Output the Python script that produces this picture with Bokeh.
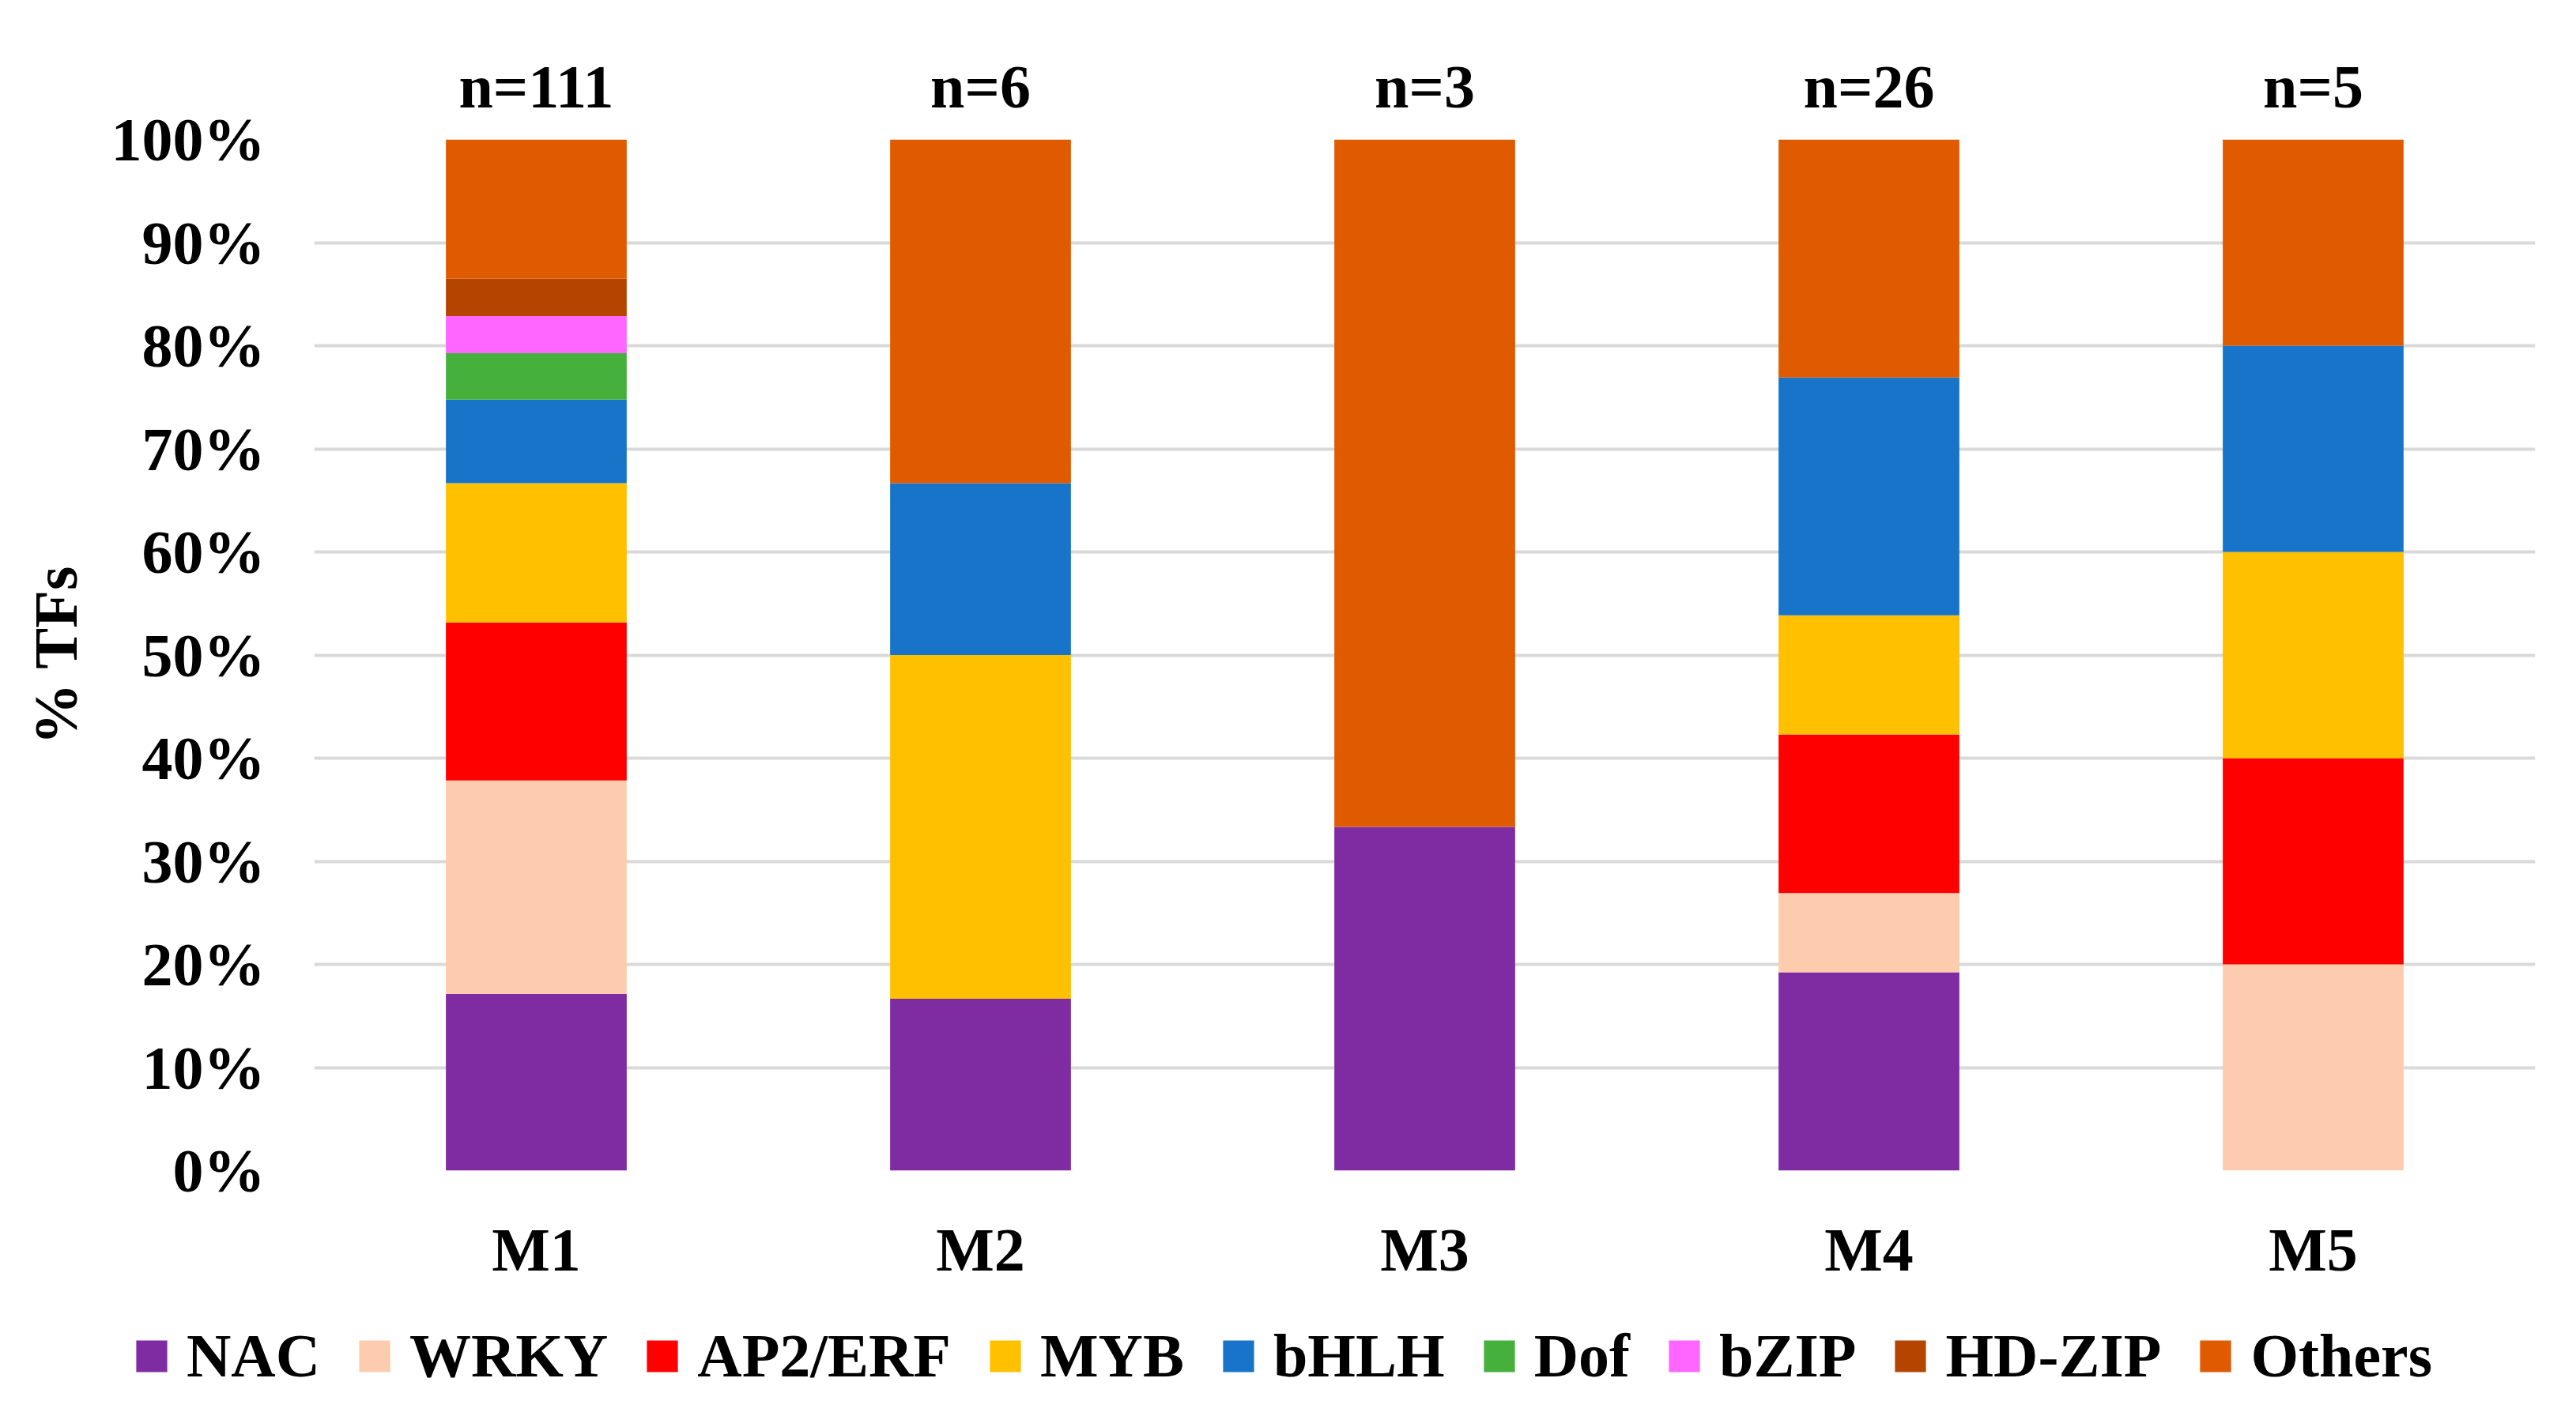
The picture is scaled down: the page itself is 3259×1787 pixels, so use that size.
from bokeh.plotting import figure
from bokeh.layouts import column
from bokeh.models import (FactorRange, Range1d, FixedTicker, CategoricalAxis,
                          Legend, LegendItem)
from bokeh.embed import file_html
from bokeh.resources import INLINE

# ---------------- data ----------------
categories = ["M1", "M2", "M3", "M4", "M5"]
n_labels = ["n=111", "n=6", "n=3", "n=26", "n=5"]

families = ["NAC", "WRKY", "AP2/ERF", "MYB", "bHLH", "Dof", "bZIP", "HD-ZIP", "Others"]
colors = ["#7F2BA2", "#FDCCAF", "#FF0000", "#FFC000", "#1874C9",
          "#46B03C", "#FF66FF", "#B54400", "#E05A00"]

# counts of TFs per family in each module (M1..M5)
nac = [19, 1, 1, 5, 0]
wrky = [23, 0, 0, 2, 1]
ap2_erf = [17, 0, 0, 4, 1]
myb = [15, 2, 0, 3, 1]
bhlh = [9, 1, 0, 6, 1]
dof = [5, 0, 0, 0, 0]
bzip = [4, 0, 0, 0, 0]
hd_zip = [4, 0, 0, 0, 0]
others = [15, 2, 2, 6, 1]
series = [nac, wrky, ap2_erf, myb, bhlh, dof, bzip, hd_zip, others]

y_ticks = [0, 10, 20, 30, 40, 50, 60, 70, 80, 90, 100]
y_tick_labels = ["0%", "10%", "20%", "30%", "40%", "50%", "60%", "70%", "80%", "90%", "100%"]

# ---------------- build ----------------
totals = [sum(col) for col in zip(*series)]
source = {"cat": categories}
for fam, vals in zip(families, series):
    source[fam] = [v / t * 100.0 for v, t in zip(vals, totals)]

FONT = "Liberation Serif"
FS = "78px"
W = 3243

p = figure(x_range=FactorRange(*categories), y_range=Range1d(0, 100),
           width=W, height=1631, output_backend="svg", toolbar_location=None,
           min_border_left=397, min_border_right=36, min_border_top=176,
           min_border_bottom=150)
p.frame_align = False
p.extra_x_ranges = {"n": FactorRange(*n_labels)}
p.outline_line_color = None
p.background_fill_color = "white"
p.border_fill_color = "white"

renderers = p.vbar_stack(families, x="cat", width=0.407, source=source,
                         fill_color=colors, line_color=None)

# grid
p.xgrid.grid_line_color = None
p.ygrid.grid_line_color = "#D9D9D9"
p.ygrid.grid_line_width = 4
p.ygrid.ticker = FixedTicker(ticks=y_ticks)

# y axis
ya = p.yaxis[0]
ya.ticker = FixedTicker(ticks=y_ticks)
ya.major_label_overrides = dict(zip(y_ticks, y_tick_labels))
ya.axis_line_color = None
ya.major_tick_line_color = None
ya.minor_tick_line_color = None
ya.major_label_standoff = 56
ya.major_label_text_font = FONT
ya.major_label_text_font_style = "bold"
ya.major_label_text_font_size = FS
ya.major_label_text_color = "black"
ya.axis_label = "% TFs"
ya.axis_label_text_font = FONT
ya.axis_label_text_font_style = "bold"
ya.axis_label_text_font_size = FS
ya.axis_label_text_color = "black"
ya.axis_label_standoff = 24

# x axis (bottom)
xa = p.xaxis[0]
xa.axis_line_color = None
xa.major_tick_line_color = None
xa.minor_tick_line_color = None
xa.major_label_standoff = 50
xa.major_label_text_font = FONT
xa.major_label_text_font_style = "bold"
xa.major_label_text_font_size = FS
xa.major_label_text_color = "black"

# n= labels (top axis)
top = CategoricalAxis(x_range_name="n")
top.axis_line_color = None
top.major_tick_line_color = None
top.minor_tick_line_color = None
top.major_label_standoff = 18
top.major_label_text_font = FONT
top.major_label_text_font_style = "bold"
top.major_label_text_font_size = FS
top.major_label_text_color = "black"
p.add_layout(top, "above")

# ---------------- legend strip ----------------
pl = figure(width=W, height=140, output_backend="svg", toolbar_location=None,
            x_range=Range1d(0, 1), y_range=Range1d(0, 1),
            x_axis_location=None, y_axis_location=None,
            min_border_left=0, min_border_right=0, min_border_top=0,
            min_border_bottom=0)
pl.frame_align = False
pl.outline_line_color = None
pl.xgrid.visible = False
pl.ygrid.visible = False
swatches = [pl.vbar(x=[0], top=[0], bottom=[0], width=0, fill_color=c, line_color=None)
            for c in colors]
items = [LegendItem(label=f, renderers=[r]) for f, r in zip(families, swatches)]
legend = Legend(items=items, orientation="horizontal", nrows=1,
                location=(167, 10),
                glyph_width=49, glyph_height=50, label_standoff=20, spacing=44,
                padding=0, margin=0, border_line_color=None,
                background_fill_alpha=0,
                label_text_font=FONT, label_text_font_style="bold",
                label_text_font_size=FS, label_text_color="black")
pl.add_layout(legend)

layout = column(p, pl, spacing=0)
open("out.html", "w").write(file_html(layout, INLINE))
